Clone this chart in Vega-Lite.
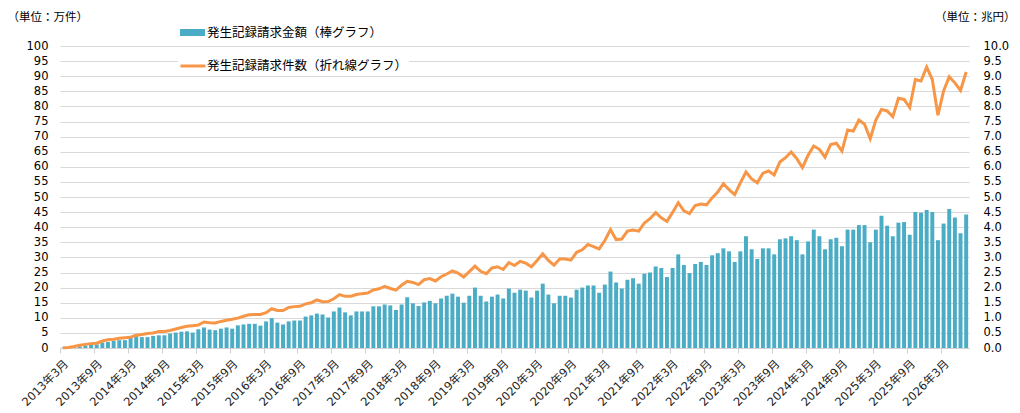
{
  "$schema": "https://vega.github.io/schema/vega-lite/v6.json",
  "width": 909,
  "height": 302,
  "autosize": "none",
  "padding": {"left": 60, "top": 46, "right": 51, "bottom": 65},
  "background": "white",
  "config": {"view": {"stroke": null}, "font": "DejaVu Sans, Noto Sans CJK JP"},
  "data": {"values": [
    {"m": "2013年3月", "amt": 0.01, "cnt": 0.1},
    {"m": "2013年4月", "amt": 0.01, "cnt": 0.2},
    {"m": "2013年5月", "amt": 0.03, "cnt": 0.5},
    {"m": "2013年6月", "amt": 0.05, "cnt": 0.9},
    {"m": "2013年7月", "amt": 0.08, "cnt": 1.2},
    {"m": "2013年8月", "amt": 0.10, "cnt": 1.45},
    {"m": "2013年9月", "amt": 0.12, "cnt": 1.6},
    {"m": "2013年10月", "amt": 0.18, "cnt": 2.3},
    {"m": "2013年11月", "amt": 0.20, "cnt": 2.7},
    {"m": "2013年12月", "amt": 0.24, "cnt": 2.9},
    {"m": "2014年1月", "amt": 0.26, "cnt": 3.2},
    {"m": "2014年2月", "amt": 0.26, "cnt": 3.4},
    {"m": "2014年3月", "amt": 0.33, "cnt": 3.6},
    {"m": "2014年4月", "amt": 0.39, "cnt": 4.2},
    {"m": "2014年5月", "amt": 0.36, "cnt": 4.5},
    {"m": "2014年6月", "amt": 0.36, "cnt": 4.8},
    {"m": "2014年7月", "amt": 0.40, "cnt": 5.0},
    {"m": "2014年8月", "amt": 0.42, "cnt": 5.5},
    {"m": "2014年9月", "amt": 0.42, "cnt": 5.5},
    {"m": "2014年10月", "amt": 0.48, "cnt": 5.8},
    {"m": "2014年11月", "amt": 0.51, "cnt": 6.3},
    {"m": "2014年12月", "amt": 0.54, "cnt": 6.8},
    {"m": "2015年1月", "amt": 0.55, "cnt": 7.2},
    {"m": "2015年2月", "amt": 0.51, "cnt": 7.4},
    {"m": "2015年3月", "amt": 0.62, "cnt": 7.6},
    {"m": "2015年4月", "amt": 0.68, "cnt": 8.6},
    {"m": "2015年5月", "amt": 0.61, "cnt": 8.4},
    {"m": "2015年6月", "amt": 0.59, "cnt": 8.3},
    {"m": "2015年7月", "amt": 0.64, "cnt": 8.8},
    {"m": "2015年8月", "amt": 0.68, "cnt": 9.2},
    {"m": "2015年9月", "amt": 0.64, "cnt": 9.5},
    {"m": "2015年10月", "amt": 0.75, "cnt": 9.9},
    {"m": "2015年11月", "amt": 0.78, "cnt": 10.5},
    {"m": "2015年12月", "amt": 0.80, "cnt": 11.0},
    {"m": "2016年1月", "amt": 0.80, "cnt": 11.1},
    {"m": "2016年2月", "amt": 0.74, "cnt": 11.1},
    {"m": "2016年3月", "amt": 0.88, "cnt": 11.7},
    {"m": "2016年4月", "amt": 0.99, "cnt": 13.0},
    {"m": "2016年5月", "amt": 0.84, "cnt": 12.4},
    {"m": "2016年6月", "amt": 0.78, "cnt": 12.4},
    {"m": "2016年7月", "amt": 0.88, "cnt": 13.4},
    {"m": "2016年8月", "amt": 0.91, "cnt": 13.7},
    {"m": "2016年9月", "amt": 0.91, "cnt": 13.8},
    {"m": "2016年10月", "amt": 1.04, "cnt": 14.6},
    {"m": "2016年11月", "amt": 1.08, "cnt": 15.0},
    {"m": "2016年12月", "amt": 1.14, "cnt": 15.9},
    {"m": "2017年1月", "amt": 1.11, "cnt": 15.3},
    {"m": "2017年2月", "amt": 1.01, "cnt": 15.4},
    {"m": "2017年3月", "amt": 1.21, "cnt": 16.3},
    {"m": "2017年4月", "amt": 1.34, "cnt": 17.7},
    {"m": "2017年5月", "amt": 1.18, "cnt": 17.1},
    {"m": "2017年6月", "amt": 1.08, "cnt": 17.1},
    {"m": "2017年7月", "amt": 1.21, "cnt": 17.7},
    {"m": "2017年8月", "amt": 1.21, "cnt": 18.0},
    {"m": "2017年9月", "amt": 1.21, "cnt": 18.2},
    {"m": "2017年10月", "amt": 1.38, "cnt": 19.2},
    {"m": "2017年11月", "amt": 1.38, "cnt": 19.6},
    {"m": "2017年12月", "amt": 1.44, "cnt": 20.4},
    {"m": "2018年1月", "amt": 1.41, "cnt": 19.7},
    {"m": "2018年2月", "amt": 1.26, "cnt": 19.2},
    {"m": "2018年3月", "amt": 1.44, "cnt": 20.8},
    {"m": "2018年4月", "amt": 1.68, "cnt": 22.1},
    {"m": "2018年5月", "amt": 1.48, "cnt": 21.7},
    {"m": "2018年6月", "amt": 1.39, "cnt": 21.0},
    {"m": "2018年7月", "amt": 1.51, "cnt": 22.6},
    {"m": "2018年8月", "amt": 1.56, "cnt": 23.0},
    {"m": "2018年9月", "amt": 1.48, "cnt": 22.2},
    {"m": "2018年10月", "amt": 1.64, "cnt": 23.6},
    {"m": "2018年11月", "amt": 1.73, "cnt": 24.5},
    {"m": "2018年12月", "amt": 1.80, "cnt": 25.5},
    {"m": "2019年1月", "amt": 1.70, "cnt": 24.8},
    {"m": "2019年2月", "amt": 1.50, "cnt": 23.5},
    {"m": "2019年3月", "amt": 1.73, "cnt": 25.3},
    {"m": "2019年4月", "amt": 2.00, "cnt": 27.1},
    {"m": "2019年5月", "amt": 1.73, "cnt": 25.4},
    {"m": "2019年6月", "amt": 1.54, "cnt": 24.6},
    {"m": "2019年7月", "amt": 1.70, "cnt": 26.5},
    {"m": "2019年8月", "amt": 1.77, "cnt": 26.9},
    {"m": "2019年9月", "amt": 1.64, "cnt": 26.0},
    {"m": "2019年10月", "amt": 1.97, "cnt": 28.3},
    {"m": "2019年11月", "amt": 1.83, "cnt": 27.3},
    {"m": "2019年12月", "amt": 1.93, "cnt": 28.7},
    {"m": "2020年1月", "amt": 1.90, "cnt": 28.1},
    {"m": "2020年2月", "amt": 1.67, "cnt": 26.9},
    {"m": "2020年3月", "amt": 1.90, "cnt": 29.0},
    {"m": "2020年4月", "amt": 2.13, "cnt": 31.2},
    {"m": "2020年5月", "amt": 1.77, "cnt": 29.0},
    {"m": "2020年6月", "amt": 1.48, "cnt": 27.4},
    {"m": "2020年7月", "amt": 1.73, "cnt": 29.5},
    {"m": "2020年8月", "amt": 1.73, "cnt": 29.5},
    {"m": "2020年9月", "amt": 1.67, "cnt": 29.1},
    {"m": "2020年10月", "amt": 1.93, "cnt": 31.7},
    {"m": "2020年11月", "amt": 2.00, "cnt": 32.5},
    {"m": "2020年12月", "amt": 2.07, "cnt": 34.3},
    {"m": "2021年1月", "amt": 2.07, "cnt": 33.6},
    {"m": "2021年2月", "amt": 1.83, "cnt": 32.8},
    {"m": "2021年3月", "amt": 2.10, "cnt": 35.6},
    {"m": "2021年4月", "amt": 2.53, "cnt": 39.2},
    {"m": "2021年5月", "amt": 2.17, "cnt": 35.9},
    {"m": "2021年6月", "amt": 1.97, "cnt": 36.1},
    {"m": "2021年7月", "amt": 2.26, "cnt": 38.7},
    {"m": "2021年8月", "amt": 2.31, "cnt": 39.1},
    {"m": "2021年9月", "amt": 2.13, "cnt": 38.7},
    {"m": "2021年10月", "amt": 2.46, "cnt": 41.4},
    {"m": "2021年11月", "amt": 2.50, "cnt": 42.8},
    {"m": "2021年12月", "amt": 2.70, "cnt": 44.8},
    {"m": "2022年1月", "amt": 2.65, "cnt": 43.1},
    {"m": "2022年2月", "amt": 2.35, "cnt": 41.9},
    {"m": "2022年3月", "amt": 2.65, "cnt": 44.9},
    {"m": "2022年4月", "amt": 3.10, "cnt": 48.1},
    {"m": "2022年5月", "amt": 2.75, "cnt": 45.4},
    {"m": "2022年6月", "amt": 2.48, "cnt": 44.5},
    {"m": "2022年7月", "amt": 2.78, "cnt": 47.2},
    {"m": "2022年8月", "amt": 2.85, "cnt": 47.7},
    {"m": "2022年9月", "amt": 2.75, "cnt": 47.4},
    {"m": "2022年10月", "amt": 3.07, "cnt": 49.7},
    {"m": "2022年11月", "amt": 3.14, "cnt": 51.6},
    {"m": "2022年12月", "amt": 3.30, "cnt": 54.4},
    {"m": "2023年1月", "amt": 3.20, "cnt": 52.4},
    {"m": "2023年2月", "amt": 2.85, "cnt": 50.8},
    {"m": "2023年3月", "amt": 3.20, "cnt": 54.7},
    {"m": "2023年4月", "amt": 3.70, "cnt": 58.3},
    {"m": "2023年5月", "amt": 3.27, "cnt": 56.0},
    {"m": "2023年6月", "amt": 2.95, "cnt": 54.7},
    {"m": "2023年7月", "amt": 3.30, "cnt": 57.9},
    {"m": "2023年8月", "amt": 3.30, "cnt": 58.6},
    {"m": "2023年9月", "amt": 3.10, "cnt": 57.3},
    {"m": "2023年10月", "amt": 3.60, "cnt": 61.6},
    {"m": "2023年11月", "amt": 3.63, "cnt": 63.0},
    {"m": "2023年12月", "amt": 3.70, "cnt": 64.9},
    {"m": "2024年1月", "amt": 3.57, "cnt": 62.7},
    {"m": "2024年2月", "amt": 3.10, "cnt": 59.7},
    {"m": "2024年3月", "amt": 3.53, "cnt": 63.8},
    {"m": "2024年4月", "amt": 3.92, "cnt": 66.9},
    {"m": "2024年5月", "amt": 3.70, "cnt": 65.8},
    {"m": "2024年6月", "amt": 3.27, "cnt": 63.2},
    {"m": "2024年7月", "amt": 3.60, "cnt": 67.4},
    {"m": "2024年8月", "amt": 3.65, "cnt": 67.8},
    {"m": "2024年9月", "amt": 3.37, "cnt": 65.2},
    {"m": "2024年10月", "amt": 3.92, "cnt": 72.2},
    {"m": "2024年11月", "amt": 3.92, "cnt": 71.8},
    {"m": "2024年12月", "amt": 4.07, "cnt": 75.5},
    {"m": "2025年1月", "amt": 4.07, "cnt": 74.1},
    {"m": "2025年2月", "amt": 3.50, "cnt": 69.3},
    {"m": "2025年3月", "amt": 3.92, "cnt": 75.5},
    {"m": "2025年4月", "amt": 4.38, "cnt": 79.0},
    {"m": "2025年5月", "amt": 4.05, "cnt": 78.5},
    {"m": "2025年6月", "amt": 3.70, "cnt": 76.6},
    {"m": "2025年7月", "amt": 4.15, "cnt": 82.7},
    {"m": "2025年8月", "amt": 4.17, "cnt": 82.3},
    {"m": "2025年9月", "amt": 3.75, "cnt": 79.6},
    {"m": "2025年10月", "amt": 4.50, "cnt": 88.9},
    {"m": "2025年11月", "amt": 4.48, "cnt": 88.4},
    {"m": "2025年12月", "amt": 4.57, "cnt": 93.0},
    {"m": "2026年1月", "amt": 4.50, "cnt": 88.9},
    {"m": "2026年2月", "amt": 3.57, "cnt": 77.1},
    {"m": "2026年3月", "amt": 4.12, "cnt": 85.1},
    {"m": "2026年4月", "amt": 4.60, "cnt": 89.8},
    {"m": "2026年5月", "amt": 4.32, "cnt": 87.8},
    {"m": "2026年6月", "amt": 3.80, "cnt": 85.3},
    {"m": "2026年7月", "amt": 4.42, "cnt": 91.4}
  ]},
  "encoding": {
    "x": {
      "field": "m", "type": "ordinal", "sort": null,
      "scale": {"paddingInner": 0.3, "paddingOuter": 0.15},
      "axis": {
        "title": null,
        "values": ["2013年3月","2013年9月","2014年3月","2014年9月","2015年3月","2015年9月","2016年3月","2016年9月","2017年3月","2017年9月","2018年3月","2018年9月","2019年3月","2019年9月","2020年3月","2020年9月","2021年3月","2021年9月","2022年3月","2022年9月","2023年3月","2023年9月","2024年3月","2024年9月","2025年3月","2025年9月","2026年3月"],
        "labelAngle": -45, "labelAlign": "right", "labelBaseline": "middle",
        "labelFontSize": 11.5, "labelColor": "#222", "labelOverlap": false,
        "labelOffset": 4, "labelPadding": 9,
        "tickColor": "#d0d0d0", "tickSize": 5, "bandPosition": 0,
        "domainColor": "#d0d0d0", "grid": false
      }
    }
  },
  "layer": [
    {
      "mark": {"type": "bar"},
      "encoding": {
        "y": {
          "field": "amt", "type": "quantitative",
          "scale": {"domain": [0, 10], "nice": false},
          "axis": {
            "orient": "right", "title": "（単位：兆円）", "titleAngle": 0,
            "titleAlign": "right", "titleBaseline": "middle", "titleX": 46, "titleY": -29,
            "titleFontSize": 11.5, "titleFontWeight": "normal", "titleColor": "#000",
            "values": [0,0.5,1,1.5,2,2.5,3,3.5,4,4.5,5,5.5,6,6.5,7,7.5,8,8.5,9,9.5,10],
            "format": ".1f", "labelFontSize": 11.5, "labelColor": "#000", "labelPadding": 14,
            "ticks": false, "domain": false, "grid": false
          }
        },
        "color": {
          "datum": "発生記録請求金額（棒グラフ）",
          "scale": {"range": ["#4bacc6"]},
          "legend": {
            "orient": "none", "legendX": 120, "legendY": -26, "title": null,
            "symbolType": "M-1,-0.28H1V0.28H-1Z", "symbolSize": 625, "symbolStrokeWidth": 0,
            "labelFontSize": 12.5, "labelColor": "#000", "labelLimit": 0, "labelOffset": 2, "padding": 0
          }
        }
      }
    },
    {
      "mark": {"type": "line", "strokeWidth": 3},
      "encoding": {
        "y": {
          "field": "cnt", "type": "quantitative",
          "scale": {"domain": [0, 100], "nice": false},
          "axis": {
            "orient": "left", "title": "（単位：万件）", "titleAngle": 0,
            "titleAlign": "left", "titleBaseline": "middle", "titleX": -53, "titleY": -29,
            "titleFontSize": 11.5, "titleFontWeight": "normal", "titleColor": "#000",
            "values": [0,5,10,15,20,25,30,35,40,45,50,55,60,65,70,75,80,85,90,95,100],
            "labelFontSize": 11.5, "labelColor": "#000", "labelPadding": 12,
            "ticks": false, "domain": false, "grid": true, "gridColor": "#d9d9d9"
          }
        },
        "stroke": {
          "datum": "発生記録請求件数（折れ線グラフ）",
          "scale": {"range": ["#f79646"]},
          "legend": {
            "orient": "none", "legendX": 118, "legendY": 5, "title": null,
            "symbolType": "stroke", "symbolSize": 625, "symbolStrokeWidth": 3,
            "labelFontSize": 12.5, "labelColor": "#000", "labelLimit": 0, "labelOffset": 0,
            "padding": 1, "fillColor": "white"
          }
        }
      }
    }
  ],
  "resolve": {"scale": {"y": "independent", "color": "independent"}}
}
